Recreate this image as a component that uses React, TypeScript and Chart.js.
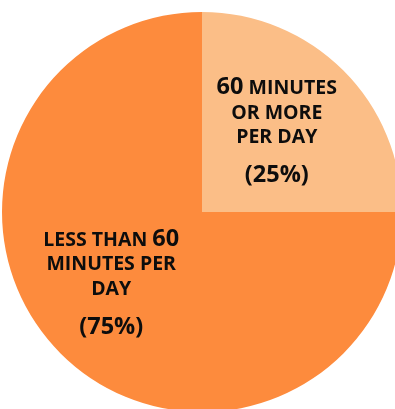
import React, { useEffect, useRef } from "react";
import { Chart, registerables } from "chart.js";

Chart.register(...registerables);

const categories = ["60 MINUTES OR MORE PER DAY", "LESS THAN 60 MINUTES PER DAY"];
const values = [25, 75];
const sliceColors = ["#FBBE87", "#FD8B3D"];
const labelLines = [
  ["60 MINUTES", "OR MORE", "PER DAY"],
  ["LESS THAN 60", "MINUTES PER", "DAY"],
];
const percentLabels = ["(25%)", "(75%)"];

const FONT = "'Open Sans', Lato, sans-serif";
const BIG = 23.5;
const SMALL = 19.5;

function drawMixed(ctx: CanvasRenderingContext2D, text: string, cx: number, y: number) {
  const runs: { t: string; big: boolean }[] = [];
  for (const ch of text) {
    const big = !/[A-Z ]/.test(ch);
    const last = runs[runs.length - 1];
    if (last && last.big === big) last.t += ch;
    else runs.push({ t: ch, big });
  }
  let total = 0;
  const widths = runs.map((r) => {
    ctx.font = `bold ${r.big ? BIG : SMALL}px ${FONT}`;
    const w = ctx.measureText(r.t).width;
    total += w;
    return w;
  });
  let x = cx - total / 2;
  runs.forEach((r, i) => {
    ctx.font = `bold ${r.big ? BIG : SMALL}px ${FONT}`;
    ctx.fillText(r.t, x, y);
    x += widths[i];
  });
}

const labelPlugin = {
  id: "sliceLabels",
  afterDatasetsDraw(chart: any, _args: any, opts: any) {
    const ctx = chart.ctx as CanvasRenderingContext2D;
    const meta = chart.getDatasetMeta(0);
    ctx.save();
    ctx.fillStyle = "#0d0d0d";
    ctx.textBaseline = "alphabetic";
    ctx.textAlign = "left";
    meta.data.forEach((arc: any, i: number) => {
      const mid = (arc.startAngle + arc.endAngle) / 2;
      const r = arc.outerRadius * opts.radial;
      const nudge = opts.nudges[i];
      const ax = arc.x + Math.cos(mid) * r + nudge[0];
      const ay = arc.y + Math.sin(mid) * r + nudge[1];
      const lines = labelLines[i];
      const offsets = [-44, -19.5, 5];
      lines.forEach((ln, j) => {
        drawMixed(ctx, ln, ax, ay + offsets[j] + 8);
      });
      drawMixed(ctx, percentLabels[i], ax, ay + 44 + 8);
    });
    ctx.restore();
  },
};

export default function App() {
  const ref = useRef<HTMLCanvasElement>(null);
  useEffect(() => {
    if (!ref.current) return;
    const chart = new Chart(ref.current, {
      type: "pie",
      data: {
        labels: categories,
        datasets: [
          {
            data: values,
            backgroundColor: sliceColors,
            borderWidth: 0,
          },
        ],
      },
      options: {
        responsive: false,
        animation: false,
        devicePixelRatio: 1,
        layout: { padding: 0 },
        plugins: {
          legend: { display: false },
          tooltip: { enabled: false },
          sliceLabels: { radial: 0.55, nudges: [[-3, -4], [-13, -8]] },
        } as any,
      },
      plugins: [labelPlugin],
    });
    return () => chart.destroy();
  }, []);
  return (
    <div
      style={{
        position: "fixed",
        left: 0,
        top: 0,
        width: 395,
        height: 409,
        overflow: "hidden",
        background: "#fff",
      }}
    >
      <canvas
        ref={ref}
        width={400}
        height={400}
        style={{ position: "absolute", left: 2, top: 12, width: 400, height: 400 }}
      />
    </div>
  );
}
